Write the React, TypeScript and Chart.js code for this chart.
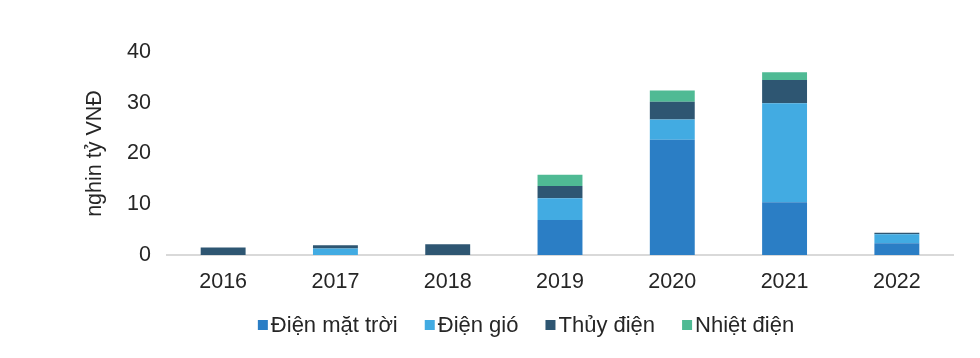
import React, { useEffect, useRef } from "react";
import { Chart, registerables } from "chart.js";

Chart.register(...registerables);

const categories = ["2016", "2017", "2018", "2019", "2020", "2021", "2022"];
const solar = [0, 0, 0, 6.9, 22.7, 10.4, 2.3];
const wind = [0, 1.3, 0, 4.3, 4.0, 19.5, 1.8];
const hydro = [1.5, 0.6, 2.1, 2.4, 3.5, 4.6, 0.3];
const thermal = [0, 0, 0, 2.2, 2.2, 1.5, 0];
const seriesNames = ["Điện mặt trời", "Điện gió", "Thủy điện", "Nhiệt điện"];
const seriesColors = ["#2b7ec5", "#42abe2", "#2e5672", "#4fba94"];
const yTitle = "nghin tỷ VNĐ";

const FONT = "'Liberation Sans', Arial, sans-serif";
const TEXT = "#262626";
const FS = 21.5;

export default function App() {
  const ref = useRef<HTMLCanvasElement | null>(null);
  useEffect(() => {
    if (!ref.current) return;
    const customLegend = {
      id: "customLegend",
      afterDraw(chart: any) {
        const ctx = chart.ctx;
        const box = 10;
        const gap = 3;
        const itemGap = 27;
        const centerX = 518;
        const y = 317;
        ctx.save();
        ctx.font = `22px ${FONT}`;
        ctx.textBaseline = "middle";
        ctx.textAlign = "left";
        const items = chart.data.datasets.map((d: any) => ({
          text: d.label,
          color: d.backgroundColor,
          w: box + gap + ctx.measureText(d.label).width,
        }));
        const total =
          items.reduce((s: number, it: any) => s + it.w, 0) + itemGap * (items.length - 1);
        let x = centerX - total / 2;
        for (const it of items) {
          ctx.fillStyle = it.color;
          ctx.fillRect(x, y - box / 2, box, box);
          ctx.fillStyle = TEXT;
          ctx.fillText(it.text, x + box + gap, y + 1);
          x += it.w + itemGap;
        }
        ctx.restore();
      },
    };
    const chart = new Chart(ref.current, {
      type: "bar",
      data: {
        labels: categories,
        datasets: seriesNames.map((name, i) => ({
          label: name,
          data: [solar, wind, hydro, thermal][i],
          backgroundColor: seriesColors[i],
        })),
      },
      plugins: [customLegend],
      options: {
        animation: false,
        responsive: true,
        maintainAspectRatio: false,
        layout: { padding: { left: 70, right: 19, top: 44, bottom: 55 } },
        datasets: { bar: { barPercentage: 0.4, categoryPercentage: 1 } },
        plugins: {
          tooltip: { enabled: false },
          legend: { display: false },
        },
        scales: {
          x: {
            stacked: true,
            grid: { display: false, drawTicks: false },
            border: { display: true, color: "#d9d9d9", width: 2 },
            ticks: { color: TEXT, padding: 14, font: { family: FONT, size: FS } },
            afterFit: (s: any) => {
              s.height = 40;
            },
          },
          y: {
            stacked: true,
            min: 0,
            max: 40,
            grid: { display: false, drawTicks: false },
            border: { display: false },
            ticks: { stepSize: 10, color: TEXT, padding: 16, font: { family: FONT, size: FS } },
            title: {
              display: true,
              text: yTitle,
              color: TEXT,
              font: { family: FONT, size: FS },
            },
            afterFit: (s: any) => {
              s.width = 89;
            },
          },
        },
      },
    });
    return () => chart.destroy();
  }, []);
  return (
    <div style={{ width: 964, height: 342, position: "relative" }}>
      <canvas ref={ref} />
    </div>
  );
}
